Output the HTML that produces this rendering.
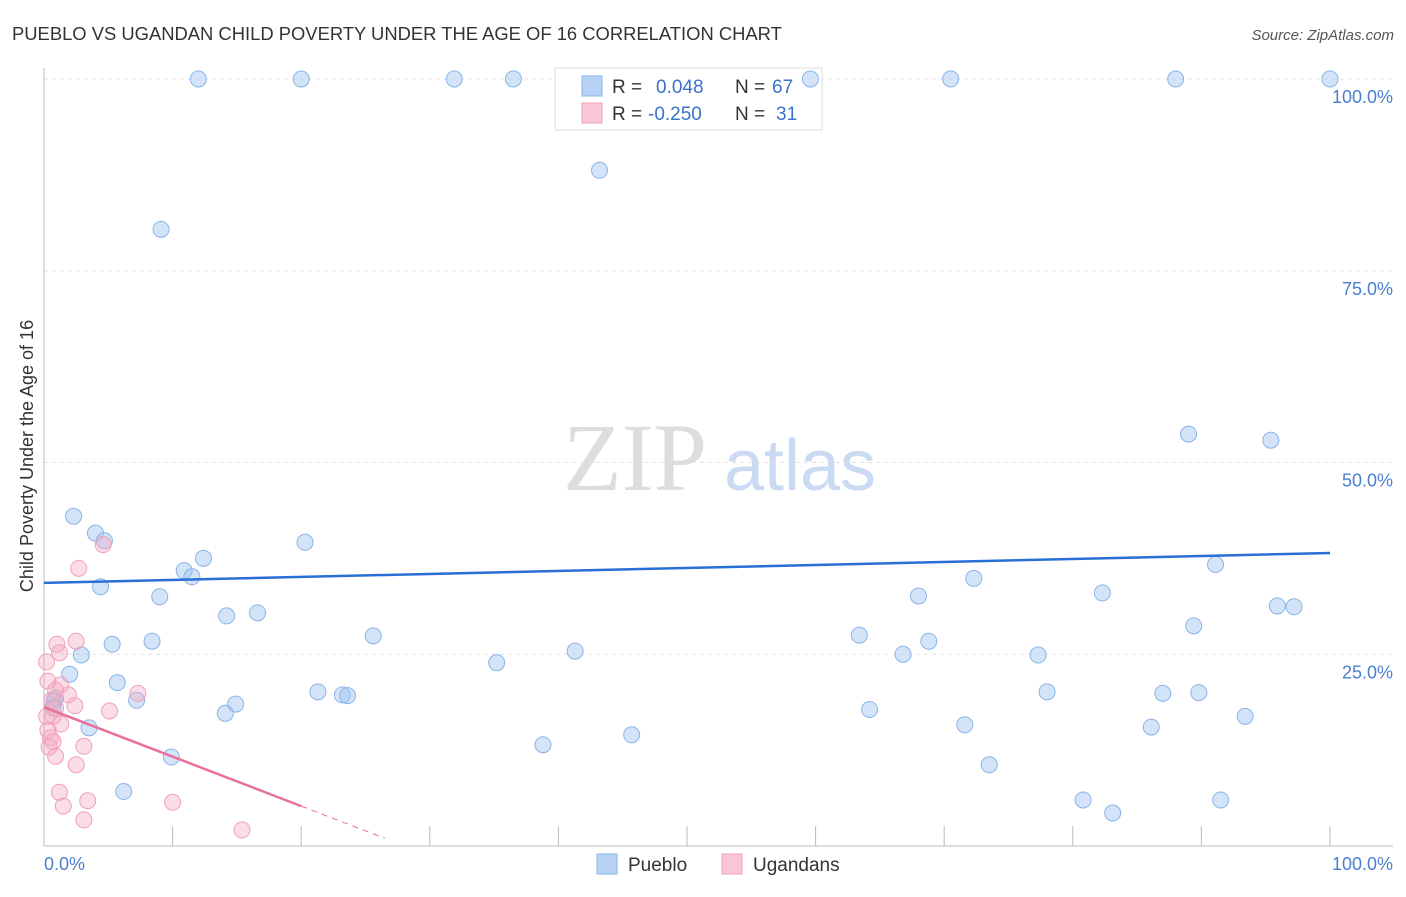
<!DOCTYPE html>
<html><head><meta charset="utf-8"><style>
body{margin:0;background:#fff;font-family:"Liberation Sans",sans-serif;}
svg text{font-family:"Liberation Sans",sans-serif;}
</style></head><body>
<svg width="1406" height="892" viewBox="0 0 1406 892">
<text x="12" y="40" font-size="18.4" fill="#333">PUEBLO VS UGANDAN CHILD POVERTY UNDER THE AGE OF 16 CORRELATION CHART</text>
<text x="1394" y="40" font-size="15" fill="#555" text-anchor="end" font-style="italic">Source: ZipAtlas.com</text>
<text x="33" y="456" font-size="18" fill="#333" text-anchor="middle" transform="rotate(-90 33 456)">Child Poverty Under the Age of 16</text>
<g><text x="635" y="490" font-size="96" fill="#ddd" font-family="Liberation Serif" text-anchor="middle" style="font-family:'Liberation Serif',serif">ZIP</text><text x="800" y="490" font-size="72" fill="#c9daf2" text-anchor="middle">atlas</text></g>
<g id="grid"></g><g id="axes"></g>
<g>
<rect x="555" y="68" width="267" height="62" fill="#fff" stroke="#ddd"/>
<rect x="582" y="76" width="20" height="20" fill="#b8d3f5" stroke="#8ab4e8"/>
<rect x="582" y="103" width="20" height="20" fill="#f9c6d6" stroke="#f0a0b8"/>
<text x="612" y="93" font-size="19" fill="#333">R = <tspan fill="#3a72cc" x="656">0.048</tspan><tspan fill="#333" x="735">N = </tspan><tspan fill="#3a72cc" x="772">67</tspan></text>
<text x="612" y="120" font-size="19" fill="#333">R = <tspan fill="#3a72cc" x="648">-0.250</tspan><tspan fill="#333" x="735">N = </tspan><tspan fill="#3a72cc" x="776">31</tspan></text>
</g>
<g id="pts"></g><g id="lines"></g>
<g>
<rect x="597" y="854" width="20" height="20" fill="#b8d3f5" stroke="#8ab4e8"/>
<text x="628" y="871" font-size="19" fill="#333">Pueblo</text>
<rect x="722" y="854" width="20" height="20" fill="#f9c6d6" stroke="#f0a0b8"/>
<text x="753" y="871" font-size="19" fill="#333">Ugandans</text>
</g>
</svg>
<script>
const yTicks=[25,50,75,100];
const blueX=[12,20,31.9,36.5,59.6,70.5,88,100,43.2,9.1,89,95.4,2.3,4,4.7,20.3,12.4,10.9,11.5,4.4,9,72.3,91.1,68,82.3,95.9,97.2,14.2,16.6,89.4,5.3,8.4,25.6,63.4,68.8,2.9,41.3,66.8,77.3,35.2,2,5.7,0.9,0.8,7.2,14.9,21.3,23.2,23.6,78,87,89.8,64.2,14.1,71.6,93.4,3.5,86.1,45.7,38.8,9.9,73.5,6.2,80.8,83.1,91.5,0.7];
const blueY=[100,100,100,100,100,100,100,100,88.1,80.4,53.7,52.9,43,40.8,39.8,39.6,37.5,35.9,35.1,33.8,32.5,34.9,36.7,32.6,33,31.3,31.2,30,30.4,28.7,26.3,26.7,27.4,27.5,26.7,24.9,25.4,25,24.9,23.9,22.4,21.3,19.3,18.9,19,18.5,20.1,19.7,19.6,20.1,19.9,20,17.8,17.3,15.8,16.9,15.4,15.5,14.5,13.2,11.6,10.6,7.1,6,4.3,6,18];
const pinkX=[2.7,4.6,1,2.5,1.2,0.3,1.3,1.9,0.9,0.6,0.9,7.3,2.4,5.1,0.2,0.7,1.3,0.3,0.5,0.7,0.4,3.1,0.9,2.5,1.2,1.5,3.4,10,3.1,15.4,0.2];
const pinkY=[36.2,39.3,26.3,26.7,25.2,21.5,21,19.7,20.3,19,18,19.9,18.3,17.6,16.9,16.9,15.9,15.1,14.1,13.6,12.9,13,11.7,10.6,7,5.2,5.9,5.7,3.4,2.1,24];
const blueLine=[34.3,38.2];
const pinkLine=[18.1,5.2];
const NS="http://www.w3.org/2000/svg";
const X=v=>44+v*12.86, Y=v=>846-v*7.67;
function mk(t,a,p){const e=document.createElementNS(NS,t);for(const k in a)e.setAttribute(k,a[k]);document.getElementById(p).appendChild(e);return e;}
yTicks.forEach(t=>{
 const l=mk('line',{x1:44,x2:1393,y1:Y(t),y2:Y(t),stroke:'#e3e3e3','stroke-dasharray':'4,4'},'grid');
 
 
 const tx=mk('text',{x:1393,y:Y(t)+24,'font-size':18,fill:'#4a7fd0','text-anchor':'end'},'grid');
 tx.textContent=t.toFixed(1)+'%';
 
 
});
let a=mk('line',{x1:44,x2:44,y1:68,y2:846,stroke:'#bbb'},'axes');


a=mk('line',{x1:44,x2:1393,y1:846,y2:846,stroke:'#bbb'},'axes');


for(let i=1;i<=10;i++){const t=mk('line',{x1:X(i*10),x2:X(i*10),y1:826,y2:846,stroke:'#bbb'},'axes');
 
 }
[['0.0%',44,'start'],['100.0%',1393,'end']].forEach(d=>{const t=mk('text',{x:d[1],y:870,'font-size':18,fill:'#4a7fd0','text-anchor':d[2]},'axes');t.textContent=d[0];
 
 });
blueX.forEach((v,i)=>{const c=mk('circle',{cx:X(v),cy:Y(blueY[i]),r:8,fill:'rgba(160,196,240,0.45)',stroke:'#8ab4e8','stroke-width':1},'pts');
 
 });
pinkX.forEach((v,i)=>{const c=mk('circle',{cx:X(v),cy:Y(pinkY[i]),r:8,fill:'rgba(245,170,195,0.4)',stroke:'#f0a0b8','stroke-width':1},'pts');
 
 });
let l=mk('line',{x1:X(0),y1:Y(blueLine[0]),x2:X(100),y2:Y(blueLine[1]),stroke:'#2a6fd6','stroke-width':2.5},'lines');


const slope=(pinkLine[1]-pinkLine[0])/20;
l=mk('line',{x1:X(0),y1:Y(pinkLine[0]),x2:X(20),y2:Y(pinkLine[1]),stroke:'#e8709a','stroke-width':2.5},'lines');


const xe=26.5;
l=mk('line',{x1:X(20),y1:Y(pinkLine[1]),x2:X(xe),y2:Y(pinkLine[0]+slope*xe),stroke:'#e8709a','stroke-width':1,'stroke-dasharray':'6,5'},'lines');


</script>
</body></html>
